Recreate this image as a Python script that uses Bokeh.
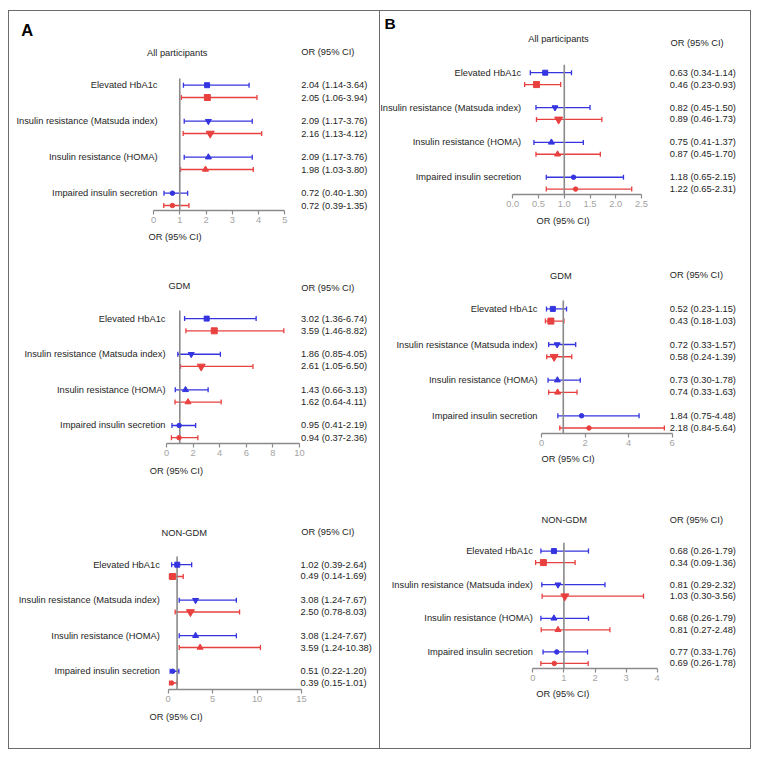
import numpy as np
from bokeh.plotting import figure
from bokeh.models import (ColumnDataSource, Range1d, FixedTicker, Whisker, TeeHead, Title)
from bokeh.layouts import row, column
from bokeh.core.properties import value
from bokeh.embed import file_html
from bokeh.resources import INLINE

# ---------------- data ----------------
categories = ["Elevated HbA1c", "Insulin resistance (Matsuda index)",
              "Insulin resistance (HOMA)", "Impaired insulin secretion"]
markers = ["square", "inverted_triangle", "triangle", "circle"]
groups = [0, 1, 2, 3]

# Panel A
a_all_blue_or = [2.04, 2.09, 2.09, 0.72]
a_all_blue_lo = [1.14, 1.17, 1.17, 0.40]
a_all_blue_hi = [3.64, 3.76, 3.76, 1.30]
a_all_red_or = [2.05, 2.16, 1.98, 0.72]
a_all_red_lo = [1.06, 1.13, 1.03, 0.39]
a_all_red_hi = [3.94, 4.12, 3.80, 1.35]

a_gdm_blue_or = [3.02, 1.86, 1.43, 0.95]
a_gdm_blue_lo = [1.36, 0.85, 0.66, 0.41]
a_gdm_blue_hi = [6.74, 4.05, 3.13, 2.19]
a_gdm_red_or = [3.59, 2.61, 1.62, 0.94]
a_gdm_red_lo = [1.46, 1.05, 0.64, 0.37]
a_gdm_red_hi = [8.82, 6.50, 4.11, 2.36]

a_non_blue_or = [1.02, 3.08, 3.08, 0.51]
a_non_blue_lo = [0.39, 1.24, 1.24, 0.22]
a_non_blue_hi = [2.64, 7.67, 7.67, 1.20]
a_non_red_or = [0.49, 2.50, 3.59, 0.39]
a_non_red_lo = [0.14, 0.78, 1.24, 0.15]
a_non_red_hi = [1.69, 8.03, 10.38, 1.01]

# Panel B
b_all_blue_or = [0.63, 0.82, 0.75, 1.18]
b_all_blue_lo = [0.34, 0.45, 0.41, 0.65]
b_all_blue_hi = [1.14, 1.50, 1.37, 2.15]
b_all_red_or = [0.46, 0.89, 0.87, 1.22]
b_all_red_lo = [0.23, 0.46, 0.45, 0.65]
b_all_red_hi = [0.93, 1.73, 1.70, 2.31]

b_gdm_blue_or = [0.52, 0.72, 0.73, 1.84]
b_gdm_blue_lo = [0.23, 0.33, 0.30, 0.75]
b_gdm_blue_hi = [1.15, 1.57, 1.78, 4.48]
b_gdm_red_or = [0.43, 0.58, 0.74, 2.18]
b_gdm_red_lo = [0.18, 0.24, 0.33, 0.84]
b_gdm_red_hi = [1.03, 1.39, 1.63, 5.64]

b_non_blue_or = [0.68, 0.81, 0.68, 0.77]
b_non_blue_lo = [0.26, 0.29, 0.26, 0.33]
b_non_blue_hi = [1.79, 2.32, 1.79, 1.76]
b_non_red_or = [0.34, 1.03, 0.81, 0.69]
b_non_red_lo = [0.09, 0.30, 0.27, 0.26]
b_non_red_hi = [1.36, 3.56, 2.48, 1.78]

ticks_a_all = [0, 1, 2, 3, 4, 5]
tick_labels_a_all = ["0", "1", "2", "3", "4", "5"]
ticks_a_gdm = [0, 2, 4, 6, 8, 10]
tick_labels_a_gdm = ["0", "2", "4", "6", "8", "10"]
ticks_a_non = [0, 5, 10, 15]
tick_labels_a_non = ["0", "5", "10", "15"]
ticks_b_all = [0, 0.5, 1.0, 1.5, 2.0, 2.5]
tick_labels_b_all = ["0.0", "0.5", "1.0", "1.5", "2.0", "2.5"]
ticks_b_gdm = [0, 2, 4, 6]
tick_labels_b_gdm = ["0", "2", "4", "6"]
ticks_b_non = [0, 1, 2, 3, 4]
tick_labels_b_non = ["0", "1", "2", "3", "4"]

titles = ["All  participants", "GDM", "NON-GDM"]
header_or = "OR (95% CI)"
axis_title = "OR (95% CI)"
reference_or = 1

# ---------------- style / layout (pixels) ----------------
BLUE = "#3434e0"
RED = "#e8403f"
GREY = "#8a8a8a"
INK = "#1e1e1e"
FONT = "Liberation Sans"
FS = "9.3px"
W = 370
blue_sizes = [5, 6, 6, 4.5]
red_sizes = [6, 8, 6, 4.5]


def fmt(o, l, h):
    return [f"{a:.2f} ({b:.2f}-{c:.2f})" for a, b, c in zip(o, l, h)]


def make_panel(title, blue, red, ticks, tick_labels, lay, letter=None):
    H = lay["H"]
    ax0, axw, axy = lay["ax0"], lay["axw"], lay["axy"]
    r0, sp, roff, reftop = lay["r0"], lay["sp"], lay["roff"], lay["reftop"]
    xmax = ticks[-1]
    ppu = axw / xmax
    x_range = Range1d(-ax0 / ppu, (W - ax0) / ppu)
    y_bot = (axy - r0) / sp
    y_range = Range1d(y_bot, -r0 / sp)

    p = figure(width=W, height=H, x_range=x_range, y_range=y_range, title=None,
               min_border_left=0, min_border_right=0, min_border_top=0,
               min_border_bottom=int(round(H - axy)),
               y_axis_location=None, toolbar_location=None, output_backend="svg")
    p.grid.visible = False
    p.outline_line_color = None
    p.background_fill_color = "white"
    p.border_fill_color = "white"

    ax = p.xaxis[0]
    ax.bounds = (ticks[0], xmax)
    ax.ticker = FixedTicker(ticks=ticks)
    ax.major_label_overrides = {t: s for t, s in zip(ticks, tick_labels)}
    ax.axis_line_color = GREY
    ax.axis_line_width = 1.3
    ax.major_tick_line_color = GREY
    ax.major_tick_line_width = 1.2
    ax.major_tick_out = 4
    ax.major_tick_in = 0
    ax.minor_tick_out = 0
    ax.minor_tick_in = 0
    ax.major_label_text_color = "#a3a3a3"
    ax.major_label_text_font = FONT
    ax.major_label_text_font_size = FS
    ax.major_label_standoff = 2

    p.add_layout(Title(text=axis_title, align="left", offset=lay["axt"],
                       standoff=lay["axt_sd"], text_font=FONT, text_font_size=FS,
                       text_font_style="normal", text_color=INK), "below")

    # reference line at OR = 1
    p.segment(x0=[reference_or], y0=[(reftop - r0) / sp], x1=[reference_or], y1=[y_bot],
              line_color=GREY, line_width=1.6)

    for (o, l, h), color, off, sizes in ((blue, BLUE, 0.0, blue_sizes),
                                         (red, RED, roff / sp, red_sizes)):
        src = ColumnDataSource(dict(
            y=[g + off for g in groups], orv=o, lo=l, hi=h,
            marker=markers, size=sizes, txt=fmt(o, l, h)))
        p.add_layout(Whisker(source=src, base="y", lower="lo", upper="hi",
                             dimension="width", line_color=color, line_width=1.3,
                             lower_head=TeeHead(size=5, line_color=color, line_width=1.3),
                             upper_head=TeeHead(size=5, line_color=color, line_width=1.3)))
        p.scatter("orv", "y", marker="marker", size="size", color=color, source=src)
        p.text(x=0, y="y", text="txt", source=src, x_offset=lay["or_l"] - ax0,
               text_align="left", text_baseline="middle", text_color=INK,
               text_font=value(FONT), text_font_size=FS)

    cat_src = ColumnDataSource(dict(y=groups, txt=categories))
    p.text(x=0, y="y", text="txt", source=cat_src, x_offset=lay["lab_r"] - ax0,
           text_align="right", text_baseline="middle", text_color=INK,
           text_font=value(FONT), text_font_size=FS)

    hx, hy = lay["hdr"]
    p.text(x=[0], y=[0], text=[title], x_offset=hx - ax0, y_offset=hy - r0,
           text_align="center", text_baseline="middle", text_color=INK,
           text_font=value(FONT), text_font_size=FS)
    ox, oy = lay["orhdr"]
    p.text(x=[0], y=[0], text=[header_or], x_offset=ox - ax0, y_offset=oy - r0,
           text_align="left", text_baseline="middle", text_color=INK,
           text_font=value(FONT), text_font_size=FS)
    if letter is not None:
        lx, ly, lfs = lay["letter"]
        p.text(x=[0], y=[0], text=[letter], x_offset=lx - ax0, y_offset=ly - r0,
               text_align="left", text_baseline="middle", text_color="black",
               text_font=value(FONT), text_font_size=lfs, text_font_style="bold")
    return p


layouts = {
    "A1": dict(H=240, ax0=144, axw=131.3, axy=199, r0=73.7, sp=36, roff=12.3, reftop=67,
               lab_r=148, or_l=291.7, hdr=(169, 41.3), orhdr=(291.7, 41), axt=139, axt_sd=8,
               letter=(11.7, 18.8, "16.5px")),
    "A2": dict(H=247, ax0=157, axw=133, axy=191.7, r0=67, sp=35.57, roff=12.2, reftop=59,
               lab_r=156, or_l=291.5, hdr=(169.8, 34), orhdr=(291.7, 36.7), axt=140.3, axt_sd=11),
    "A3": dict(H=250, ax0=158.7, axw=133.3, axy=191.3, r0=66.3, sp=35.57, roff=11.8, reftop=58,
               lab_r=150.3, or_l=291, hdr=(174.8, 34.3), orhdr=(291.7, 33.7), axt=140, axt_sd=11),
    "B1": dict(H=240, ax0=132.3, axw=128.7, axy=183.3, r0=61.3, sp=34.9, roff=11.9, reftop=53.3,
               lab_r=140.7, or_l=289.3, hdr=(179.3, 28), orhdr=(290, 31.3), axt=156, axt_sd=8,
               letter=(4, 11.8, "15.5px")),
    "B2": dict(H=247, ax0=161, axw=130.7, axy=181.7, r0=57.3, sp=35.57, roff=12.2, reftop=49,
               lab_r=157, or_l=289.3, hdr=(180.3, 24.7), orhdr=(289.3, 23), axt=161, axt_sd=7),
    "B3": dict(H=250, ax0=152.3, axw=124.4, axy=170.3, r0=52.7, sp=33.67, roff=11.5, reftop=44.3,
               lab_r=152.3, or_l=289.3, hdr=(183.8, 22), orhdr=(289.3, 22), axt=155.7, axt_sd=7),
}

A1 = make_panel(titles[0],
                (a_all_blue_or, a_all_blue_lo, a_all_blue_hi),
                (a_all_red_or, a_all_red_lo, a_all_red_hi),
                ticks_a_all, tick_labels_a_all, layouts["A1"], letter="A")
A2 = make_panel(titles[1],
                (a_gdm_blue_or, a_gdm_blue_lo, a_gdm_blue_hi),
                (a_gdm_red_or, a_gdm_red_lo, a_gdm_red_hi),
                ticks_a_gdm, tick_labels_a_gdm, layouts["A2"])
A3 = make_panel(titles[2],
                (a_non_blue_or, a_non_blue_lo, a_non_blue_hi),
                (a_non_red_or, a_non_red_lo, a_non_red_hi),
                ticks_a_non, tick_labels_a_non, layouts["A3"])
B1 = make_panel(titles[0],
                (b_all_blue_or, b_all_blue_lo, b_all_blue_hi),
                (b_all_red_or, b_all_red_lo, b_all_red_hi),
                ticks_b_all, tick_labels_b_all, layouts["B1"], letter="B")
B2 = make_panel(titles[1],
                (b_gdm_blue_or, b_gdm_blue_lo, b_gdm_blue_hi),
                (b_gdm_red_or, b_gdm_red_lo, b_gdm_red_hi),
                ticks_b_gdm, tick_labels_b_gdm, layouts["B2"])
B3 = make_panel(titles[2],
                (b_non_blue_or, b_non_blue_lo, b_non_blue_hi),
                (b_non_red_or, b_non_red_lo, b_non_red_hi),
                ticks_b_non, tick_labels_b_non, layouts["B3"])

colA = column(A1, A2, A3, spacing=0, styles={"border": "1px solid #6b6b6b"})
colB = column(B1, B2, B3, spacing=0,
              styles={"border": "1px solid #6b6b6b", "border-left": "none"})
page = row(colA, colB, spacing=0, margin=(10, 0, 0, 8))

open("out.html", "w").write(file_html(page, INLINE))
